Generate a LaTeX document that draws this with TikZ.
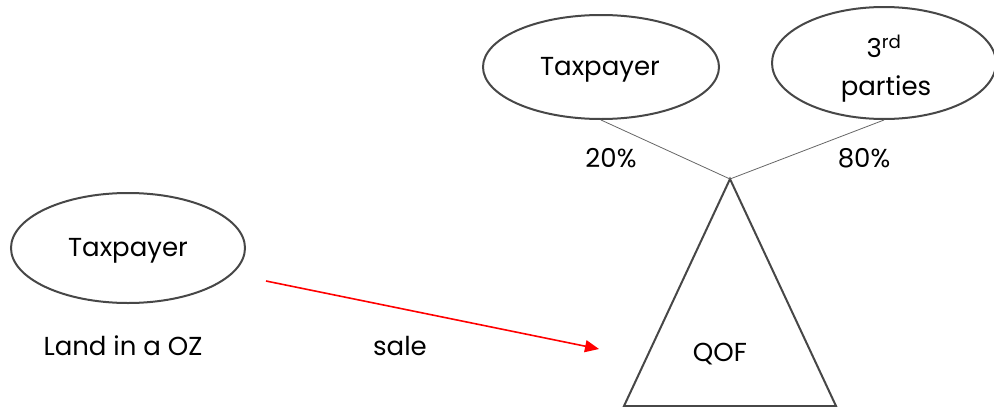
\documentclass[tikz,border=0pt]{standalone}
\usepackage{fontspec}
\setmainfont{Poppins}
\usetikzlibrary{shapes.geometric,arrows.meta}
\begin{document}
\begin{tikzpicture}[x=1pt,y=-1pt,
  oval/.style={ellipse,draw=black!72,line width=2pt,fill=white,inner sep=0pt},
  lbl/.style={font=\fontsize{26}{30}\selectfont,text=black,inner sep=0pt},
  thin/.style={draw=black!60,line width=0.8pt},
  redarrow/.style={draw=red,line width=1.6pt,-{Triangle[length=14pt,width=12pt]}}]
\useasboundingbox (0,0) rectangle (994,407);
% triangle
\coordinate (apex) at (730,179);
\coordinate (bl) at (624,406);
\coordinate (br) at (836,406);
\draw[draw=black!72,line width=2pt,line join=miter] (apex) -- (bl) -- (br) -- cycle;
\node[lbl] (qof) at (720,354) {QOF};
% ellipses
\node[oval,minimum width=234pt,minimum height=110pt] (tl) at (128,248) {};
\node[lbl] at (128,251) {Taxpayer};
\node[oval,minimum width=236pt,minimum height=104pt] (tt) at (601,67) {};
\node[lbl] at (600,70) {Taxpayer};
\node[oval,minimum width=224pt,minimum height=112pt] (tp) at (884,63) {};
\node[lbl] at (884,46) {3\textsuperscript{rd}};
\node[lbl] at (886,89) {parties};
% connectors
\draw[thin] (tt.south) -- (apex);
\draw[thin] (tp.south) -- (apex);
\node[lbl] (p20) at (611,158) {20\%};
\node[lbl] (p80) at (864,158) {80\%};
% labels
\node[lbl] (land) at (123,346) {Land in a OZ};
\node[lbl] (sale) at (400,346) {sale};
\coordinate (a1) at (266,281);
\coordinate (a2) at (599,349);
\draw[redarrow] (a1) -- (a2);
\end{tikzpicture}
\end{document}
